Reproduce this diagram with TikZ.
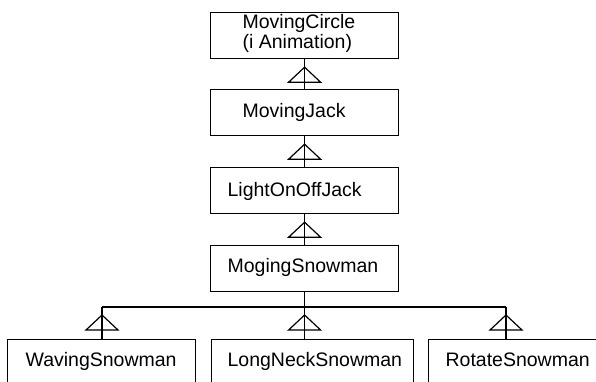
\documentclass[tikz,border=0pt]{standalone}
\usepackage{fontspec}
\setmainfont{Liberation Sans}
\begin{document}
\begin{tikzpicture}[x=1pt,y=-1pt,line width=1.2pt,
  box/.style={draw,rectangle,inner sep=0pt,anchor=north west,minimum height=46pt},
  lab/.style={inner sep=0pt,anchor=base west,align=left,font=\fontsize{19.5}{20}\selectfont},
  inh/.pic={\draw[line join=miter] (0,0) -- (-16,15) -- (16,15) -- cycle;}]
\useasboundingbox (0,0) rectangle (596,381);
\clip (0,0) rectangle (596,381);
\node[box,minimum width=188pt] (A) at (210,12) {};
\node[box,minimum width=188pt] (B) at (210,89) {};
\node[box,minimum width=188pt] (C) at (210,167) {};
\node[box,minimum width=188pt] (D) at (210,245) {};
\node[box,minimum width=188pt,minimum height=60pt] (W) at (7,339) {};
\node[box,minimum width=202pt,minimum height=60pt] (L) at (211,339) {};
\node[box,minimum width=200pt,minimum height=60pt] (R) at (428,339) {};
\node[lab] (tA) at (242,48) {MovingCircle\\(i Animation)};
\node[lab] (tB) at (242,117) {MovingJack};
\node[lab] (tC) at (227,196) {LightOnOffJack};
\node[lab] (tD) at (227,272) {MogingSnowman};
\node[lab] (tW) at (25,366) {WavingSnowman};
\node[lab] (tL) at (227,366) {LongNeckSnowman};
\node[lab] (tR) at (445,366) {RotateSnowman};
\draw (B.north) -- (A.south);
\draw (C.north) -- (B.south);
\draw (D.north) -- (C.south);
\pic at ([yshift=-8pt]A.south) {inh};
\pic at ([yshift=-8pt]B.south) {inh};
\pic at ([yshift=-8pt]C.south) {inh};
\coordinate (jW) at (102,307);
\coordinate (jR) at (506,307);
\draw (D.south) -- (D.south |- L.north);
\draw (jW) -- (jR);
\draw (jW) -- (jW |- W.north);
\draw (jR) -- (jR |- R.north);
\pic at ([yshift=-8pt]jW) {inh};
\pic at ([yshift=-8pt]D.south |- jW) {inh};
\pic at ([yshift=-8pt]jR) {inh};
\end{tikzpicture}
\end{document}
